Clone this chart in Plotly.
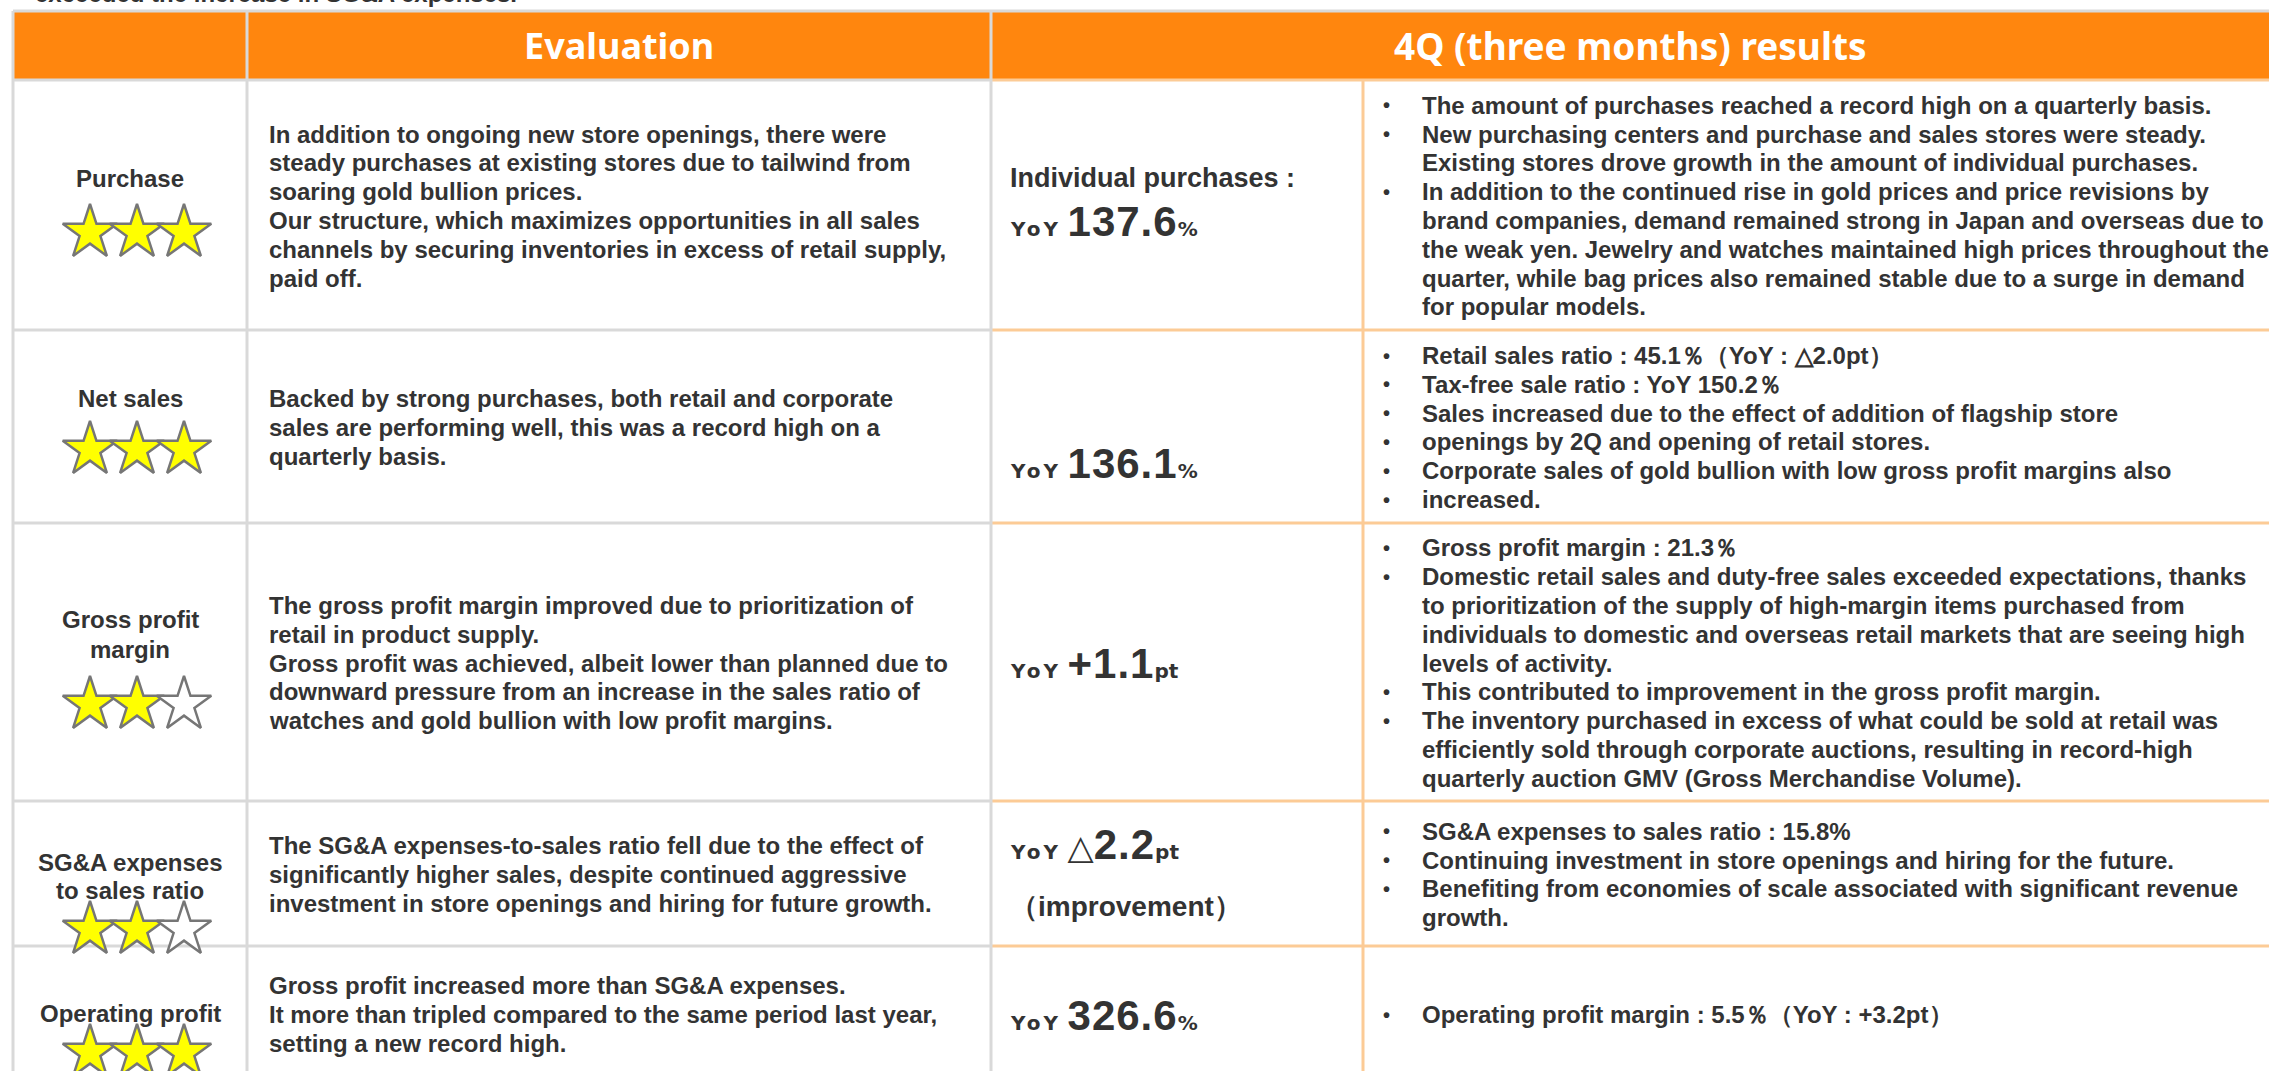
import plotly.graph_objects as go

# ---------------- data ----------------
header_labels = ["", "Evaluation", "4Q (three months) results"]
categories = ["Purchase", "Net sales", "Gross profit\nmargin",
              "SG&A expenses\nto sales ratio", "Operating profit"]
ratings = [3, 3, 2, 2, 3]
max_rating = 3
evaluation_lines = [
    ["In addition to ongoing new store openings, there were",
     "steady purchases at existing stores due to tailwind from",
     "soaring gold bullion prices.",
     "Our structure, which maximizes opportunities in all sales",
     "channels by securing inventories in excess of retail supply,",
     "paid off."],
    ["Backed by strong purchases, both retail and corporate",
     "sales are performing well, this was a record high on a",
     "quarterly basis."],
    ["The gross profit margin improved due to prioritization of",
     "retail in product supply.",
     "Gross profit was achieved, albeit lower than planned due to",
     "downward pressure from an increase in the sales ratio of",
     "watches and gold bullion with low profit margins."],
    ["The SG&A expenses-to-sales ratio fell due to the effect of",
     "significantly higher sales, despite continued aggressive",
     "investment in store openings and hiring for future growth."],
    ["Gross profit increased more than SG&A expenses.",
     "It more than tripled compared to the same period last year,",
     "setting a new record high."],
]
kpi_captions = ["Individual purchases :", "", "", "", ""]
kpi_prefix = ["YoY", "YoY", "YoY", "YoY", "YoY"]
kpi_signs = ["", "", "", "△", ""]
kpi_values = ["137.6", "136.1", "+1.1", "2.2", "326.6"]
kpi_units = ["%", "%", "pt", "pt", "%"]
kpi_notes = ["", "", "", "（improvement）", ""]
result_bullets = [
    [["The amount of purchases reached a record high on a quarterly basis."],
     ["New purchasing centers and purchase and sales stores were steady.",
      "Existing stores drove growth in the amount of individual purchases."],
     ["In addition to the continued rise in gold prices and price revisions by",
      "brand companies, demand remained strong in Japan and overseas due to",
      "the weak yen. Jewelry and watches maintained high prices throughout the",
      "quarter, while bag prices also remained stable due to a surge in demand",
      "for popular models."]],
    [["Retail sales ratio : 45.1％（YoY : △2.0pt）"],
     ["Tax-free sale ratio : YoY 150.2％"],
     ["Sales increased due to the effect of addition of flagship store"],
     ["openings by 2Q and opening of retail stores."],
     ["Corporate sales of gold bullion with low gross profit margins also"],
     ["increased."]],
    [["Gross profit margin : 21.3％"],
     ["Domestic retail sales and duty-free sales exceeded expectations, thanks",
      "to prioritization of the supply of high-margin items purchased from",
      "individuals to domestic and overseas retail markets that are seeing high",
      "levels of activity."],
     ["This contributed to improvement in the gross profit margin."],
     ["The inventory purchased in excess of what could be sold at retail was",
      "efficiently sold through corporate auctions, resulting in record-high",
      "quarterly auction GMV (Gross Merchandise Volume)."]],
    [["SG&A expenses to sales ratio : 15.8%"],
     ["Continuing investment in store openings and hiring for the future."],
     ["Benefiting from economies of scale associated with significant revenue",
      "growth."]],
    [["Operating profit margin : 5.5％（YoY : +3.2pt）"]],
]
top_note = "exceeded the increase in SG&A expenses."

# ---------------- layout geometry / styles ----------------
W, H = 2269, 1071
COL_X = [13, 247, 991, 1363, W]
ROW_Y = [11, 80, 330, 523, 801, 946, 1081]
LS = 28.8
LABEL_Y = [[178], [398], [619, 649], [862, 890], [1013]]
STAR_Y = [230, 447, 702, 927, 1050]
STAR_DX = 47
KPI_CAPTION_Y = 178
KPI_VALUE_Y = [221, 463, 663, 844, 1015]
KPI_NOTE_Y = 906
EVAL_X = 267
KPI_X = 1008
BULLET_X = 1381
RESULT_X = 1420

ORANGE = "#FF860E"
GRAY_LINE = "#D9D9D9"
ORANGE_LINE = "#FCCB96"
TEXT = "#333333"
BODY_FONT = "Liberation Sans, Arial, sans-serif"
HEAD_FONT = "Noto Sans, Noto Sans CJK JP, sans-serif"
SMALL_FONT = "DejaVu Sans"
FS = 24

fig = go.Figure()
shapes = []
ann = []


def line(x0, y0, x1, y1, color, w=3):
    shapes.append(dict(type="line", xref="x", yref="y", x0=x0, y0=y0, x1=x1, y1=y1,
                       line=dict(color=color, width=w), layer="below"))


def text(x, y, s, size=FS, xanchor="left", family=BODY_FONT, color=TEXT, yref="y"):
    ann.append(dict(x=x, y=y, xref="x", yref=yref, text=s, showarrow=False,
                    xanchor=xanchor, yanchor="middle",
                    font=dict(family=family, size=size, color=color)))


# header background
shapes.append(dict(type="rect", xref="x", yref="y", x0=COL_X[0], x1=W, y0=ROW_Y[0], y1=ROW_Y[1],
                   fillcolor=ORANGE, line=dict(width=0), layer="below"))
# borders
line(COL_X[0], ROW_Y[0], W, ROW_Y[0], GRAY_LINE)
for y in ROW_Y[1:-1]:
    line(COL_X[0], y, COL_X[2], y, GRAY_LINE)
    line(COL_X[2], y, W, y, ORANGE_LINE)
for x in COL_X[:3]:
    line(x, ROW_Y[0], x, H + 5, GRAY_LINE)
line(COL_X[3], ROW_Y[1], COL_X[3], H + 5, ORANGE_LINE)

# header texts
text((COL_X[1] + COL_X[2]) / 2, 45, "<b>%s</b>" % header_labels[1], size=36,
     xanchor="center", family=HEAD_FONT, color="white")
text((COL_X[2] + W) / 2, 45, "<b>%s</b>" % header_labels[2], size=37,
     xanchor="center", family=HEAD_FONT, color="white")

# cut-off note above the table (only its lower part shows, as in the source)
text(33, 1 + 7.0 / H, "<b>%s</b>" % top_note, yref="paper")

col1_center = (COL_X[0] + COL_X[1]) / 2
star_x, star_y, star_fill = [], [], []
for r in range(len(categories)):
    center = (ROW_Y[r + 1] + ROW_Y[r + 2]) / 2 + 1
    # labels
    for s, y in zip(categories[r].split("\n"), LABEL_Y[r]):
        text(col1_center, y, "<b>%s</b>" % s, xanchor="center")
    for k in range(max_rating):
        star_x.append(col1_center + (k - 1) * STAR_DX + 7)
        star_y.append(STAR_Y[r] + 2.7)
        star_fill.append("#FFFF00" if k < ratings[r] else "#FFFFFF")
    # evaluation
    lines = evaluation_lines[r]
    n = len(lines)
    for i, s in enumerate(lines):
        text(EVAL_X, center + (i - (n - 1) / 2) * LS, "<b>%s</b>" % s)
    # KPI
    if kpi_captions[r]:
        text(KPI_X, KPI_CAPTION_Y, "<b>%s</b>" % kpi_captions[r], size=27)
    small = 'font-family:%s;font-size:20px;letter-spacing:3px' % SMALL_FONT
    sign = ('<span style="font-family:%s;font-size:34px;font-weight:normal">%s</span>'
            % (SMALL_FONT, kpi_signs[r])) if kpi_signs[r] else ""
    kpi = ('<b><span style="%s">%s</span> %s<span style="font-size:42px;letter-spacing:1px">%s</span>'
           '<span style="font-family:%s;font-size:20px">%s</span></b>') % (
        small, kpi_prefix[r], sign, kpi_values[r], SMALL_FONT, kpi_units[r])
    text(KPI_X, KPI_VALUE_Y[r], kpi)
    if kpi_notes[r]:
        text(KPI_X, KPI_NOTE_Y, "<b>%s</b>" % kpi_notes[r], size=28)
    # results
    flat = []
    for item in result_bullets[r]:
        for j, s in enumerate(item):
            flat.append((j == 0, s))
    n = len(flat)
    for i, (b, s) in enumerate(flat):
        y = center + (i - (n - 1) / 2) * LS
        if b:
            text(BULLET_X, y, "<b>•</b>", size=20)
        text(RESULT_X, y, "<b>%s</b>" % s)

fig.add_trace(go.Scatter(
    x=star_x, y=star_y, mode="markers", hoverinfo="skip", showlegend=False,
    marker=dict(symbol="star", size=41, color=star_fill,
                line=dict(color="#767676", width=2.5))))

fig.update_layout(
    width=W, height=H, margin=dict(l=0, r=0, t=0, b=0),
    paper_bgcolor="white", plot_bgcolor="white",
    xaxis=dict(range=[0, W], visible=False, fixedrange=True),
    yaxis=dict(range=[H, 0], visible=False, fixedrange=True),
    shapes=shapes, annotations=ann, showlegend=False,
)

fig.write_html("out.html", config={"displayModeBar": False},
               post_script="document.body.style.margin='0';")
